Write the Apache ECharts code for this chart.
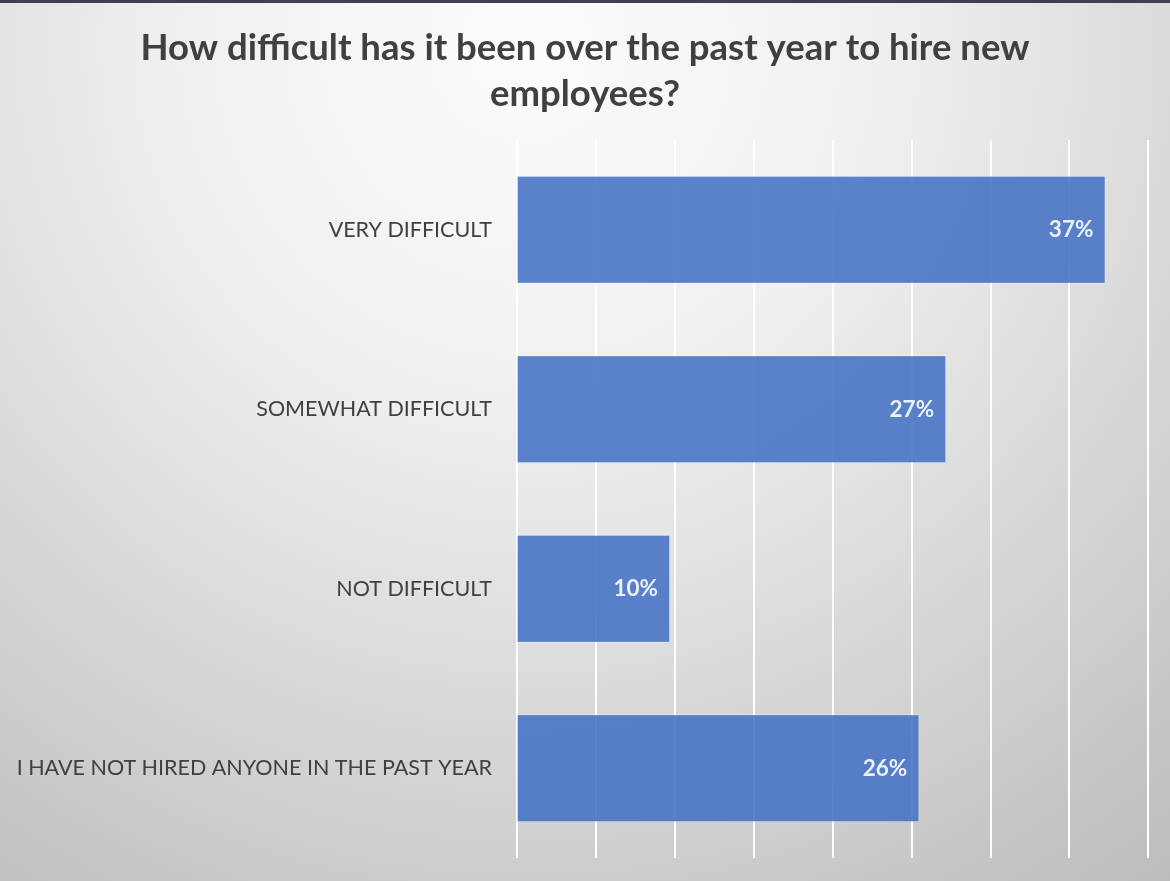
<!DOCTYPE html>
<html><head><meta charset="utf-8">
<script src="https://cdn.jsdelivr.net/npm/echarts@6/dist/echarts.min.js"></script>
<style>html,body{margin:0;padding:0;}#c{width:1170px;height:881px;}</style>
</head><body><div id="c"></div>
<script>
const titleText = 'How difficult has it been over the past year to hire new\nemployees?';
const categories = ['VERY DIFFICULT', 'SOMEWHAT DIFFICULT', 'NOT DIFFICULT', 'I HAVE NOT HIRED ANYONE IN THE PAST YEAR'];
const values = [37.3, 27.2, 9.7, 25.5];
const valueLabels = ['37%', '27%', '10%', '26%'];
const axisMin = 0, axisMax = 40, axisStep = 5;

const chart = echarts.init(document.getElementById('c'), null, {renderer: 'canvas'});
chart.setOption({
  animation: false,
  backgroundColor: {
    type: 'radial', x: 0.45, y: 0.05, r: 1.2,
    colorStops: [{offset: 0, color: '#fcfcfc'}, {offset: 0.35, color: '#efefef'}, {offset: 1, color: '#bcbcbc'}]
  },
  title: {
    text: titleText, left: 'center', top: 20,
    textStyle: {fontFamily: 'Lato', fontWeight: 'bold', fontSize: 36.5, color: '#404040', lineHeight: 46}
  },
  grid: {left: 517, right: 22, top: 140, bottom: 23, containLabel: false},
  xAxis: {
    type: 'value', min: axisMin, max: axisMax, interval: axisStep,
    axisLabel: {show: false}, axisLine: {show: false}, axisTick: {show: false},
    splitLine: {show: true, lineStyle: {color: '#ffffff', width: 2}}
  },
  yAxis: {
    type: 'category', data: categories, inverse: true,
    axisLine: {show: false}, axisTick: {show: false},
    axisLabel: {fontFamily: 'Lato', fontSize: 21.5, color: '#404040', margin: 25}
  },
  series: [{
    type: 'bar', data: values, barCategoryGap: '40%',
    itemStyle: {color: '#4472c4', opacity: 0.88, borderColor: 'rgba(255,255,255,0.35)', borderWidth: 1},
    label: {
      show: true, position: 'insideRight', distance: 12,
      formatter: p => valueLabels[p.dataIndex],
      fontFamily: 'Lato', fontWeight: 'bold', fontSize: 22.5, color: '#ffffff'
    }
  }],
  graphic: [
    {type: 'rect', shape: {x: 0, y: 0, width: 1170, height: 3}, style: {fill: '#3b424c'}, z: 100}
  ]
});
</script></body></html>
